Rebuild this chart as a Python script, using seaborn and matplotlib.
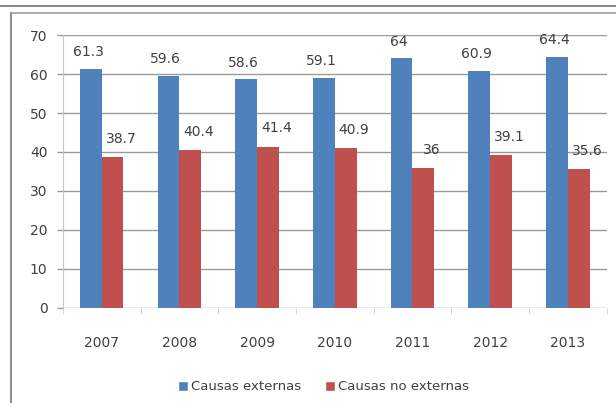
import pandas as pd
import matplotlib.pyplot as plt
import seaborn as sns
from matplotlib.lines import Line2D
from matplotlib.patches import Patch

years = ["2007", "2008", "2009", "2010", "2011", "2012", "2013"]
externas = [61.3, 59.6, 58.6, 59.1, 64, 60.9, 64.4]
no_externas = [38.7, 40.4, 41.4, 40.9, 36, 39.1, 35.6]
series = ["Causas externas", "Causas no externas"]
colors = ["#4F81BD", "#C0504D"]

df = pd.DataFrame({
    "year": years * 2,
    "value": externas + no_externas,
    "serie": [series[0]] * len(years) + [series[1]] * len(years),
})

sns.set_style("white")
plt.rcParams["font.family"] = ["DejaVu Sans"]
txt = "#404040"

fig = plt.figure(figsize=(6.16, 4.03), dpi=100)
ax = fig.add_axes([0.102, 0.236, 0.883, 0.677])

sns.barplot(data=df, x="year", y="value", hue="serie", palette=colors,
            width=0.56, saturation=1, linewidth=0, ax=ax, legend=False)

ax.set_ylim(0, 70)
ax.set_yticks(range(0, 71, 10))
ax.set_xlim(-0.5, len(years) - 0.5)
ax.yaxis.grid(True, color="#9a9a9a", linewidth=1)
ax.set_axisbelow(True)
ax.set_xlabel("")
ax.set_ylabel("")
for s in ["top", "right", "bottom"]:
    ax.spines[s].set_visible(False)
ax.spines["left"].set_color("#c8c8c8")
ax.tick_params(axis="y", left=True, length=4, width=1, color="#9a9a9a",
               pad=7, labelsize=10, labelcolor=txt)
ax.tick_params(axis="x", bottom=False, pad=17, labelsize=10, labelcolor=txt)
ax.set_xticks([i + 0.5 for i in range(-1, len(years))], minor=True)
ax.tick_params(axis="x", which="minor", bottom=True, length=4, color="#d0d0d0")

for i, (a, b) in enumerate(zip(externas, no_externas)):
    ax.annotate(f"{a:g}", (i - 0.14, a), xytext=(-2, 12), textcoords="offset points",
                ha="center", va="center", fontsize=10, color=txt)
    ax.annotate(f"{b:g}", (i + 0.14, b), xytext=(6, 13), textcoords="offset points",
                ha="center", va="center", fontsize=10, color=txt)

handles = [Patch(facecolor=c, label=s) for c, s in zip(colors, series)]
fig.legend(handles=handles, loc="center", bbox_to_anchor=(0.525, 0.04), ncol=2,
           frameon=False, fontsize=9.5, handlelength=0.8, handleheight=0.8,
           handletextpad=0.2, columnspacing=1.8, labelcolor=txt)

fig.add_artist(Line2D([0, 1], [0.985, 0.985], color="#707070", linewidth=1.2))
fig.add_artist(Line2D([0.018, 1], [0.968, 0.968], color="#b0b0b0", linewidth=1.5))
fig.add_artist(Line2D([0.018, 0.018], [0, 0.968], color="#909090", linewidth=1.5))

fig.savefig("out.png", dpi=100)
